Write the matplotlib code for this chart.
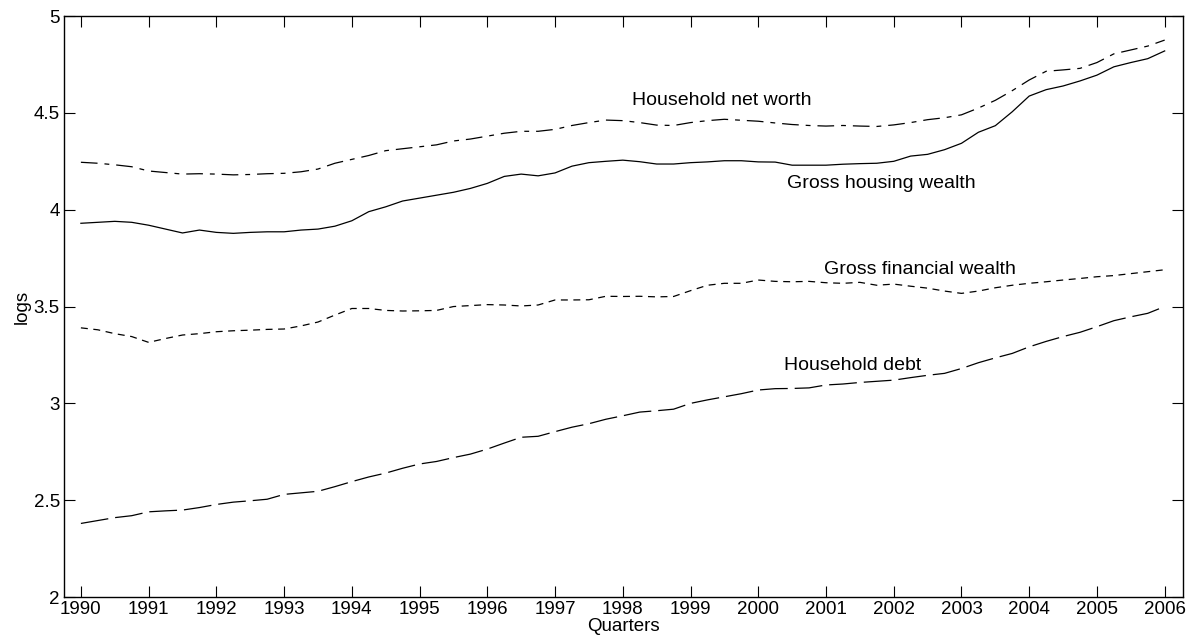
import numpy as np
import matplotlib
matplotlib.use("Agg")
import matplotlib.pyplot as plt

plt.rcParams['font.family'] = ['Liberation Sans', 'DejaVu Sans']
plt.rcParams['lines.scale_dashes'] = False

# quarterly data 1990Q1 .. 2006Q1 (logs)
start_year = 1990
net_worth = [4.245, 4.240, 4.232, 4.222,
             4.200, 4.192, 4.184, 4.186,
             4.184, 4.180, 4.182, 4.186,
             4.188, 4.196, 4.210, 4.240,
             4.260, 4.280, 4.305, 4.315,
             4.325, 4.335, 4.355, 4.365,
             4.380, 4.395, 4.405, 4.405,
             4.415, 4.435, 4.450, 4.463,
             4.460, 4.450, 4.437, 4.435,
             4.450, 4.460, 4.467, 4.462,
             4.457, 4.448, 4.440, 4.435,
             4.432, 4.435, 4.432, 4.430,
             4.438, 4.450, 4.465, 4.475,
             4.490, 4.525, 4.565, 4.615,
             4.670, 4.715, 4.722, 4.730,
             4.760, 4.805, 4.825, 4.845,
             4.876]
housing = [3.930, 3.935, 3.940, 3.935,
           3.920, 3.900, 3.880, 3.895,
           3.883, 3.878, 3.883, 3.886,
           3.886, 3.895, 3.900, 3.915,
           3.943, 3.990, 4.015, 4.045,
           4.060, 4.075, 4.090, 4.110,
           4.136, 4.172, 4.184, 4.175,
           4.190, 4.225, 4.243, 4.250,
           4.256, 4.248, 4.236, 4.236,
           4.243, 4.247, 4.253, 4.253,
           4.247, 4.246, 4.230, 4.230,
           4.230, 4.235, 4.238, 4.240,
           4.250, 4.277, 4.286, 4.310,
           4.343, 4.400, 4.434, 4.506,
           4.587, 4.620, 4.639, 4.665,
           4.695, 4.738, 4.760, 4.780,
           4.820]
financial = [3.390, 3.380, 3.360, 3.345,
             3.315, 3.335, 3.353, 3.360,
             3.370, 3.375, 3.378, 3.382,
             3.384, 3.400, 3.420, 3.456,
             3.490, 3.490, 3.480, 3.477,
             3.478, 3.480, 3.500, 3.505,
             3.510, 3.508, 3.503, 3.508,
             3.534, 3.534, 3.535, 3.553,
             3.552, 3.553, 3.550, 3.552,
             3.582, 3.610, 3.620, 3.620,
             3.637, 3.630, 3.628, 3.630,
             3.623, 3.620, 3.625, 3.610,
             3.616, 3.605, 3.595, 3.580,
             3.568, 3.580, 3.597, 3.610,
             3.620, 3.628, 3.637, 3.645,
             3.654, 3.660, 3.670, 3.680,
             3.690]
debt = [2.380, 2.395, 2.410, 2.420,
        2.440, 2.445, 2.449, 2.462,
        2.478, 2.490, 2.497, 2.505,
        2.530, 2.538, 2.546, 2.570,
        2.596, 2.620, 2.640, 2.665,
        2.687, 2.700, 2.720, 2.738,
        2.764, 2.795, 2.825, 2.830,
        2.854, 2.877, 2.895, 2.918,
        2.936, 2.955, 2.962, 2.970,
        3.000, 3.018, 3.034, 3.050,
        3.069, 3.076, 3.077, 3.080,
        3.095, 3.100, 3.108, 3.114,
        3.120, 3.133, 3.145, 3.155,
        3.180, 3.210, 3.235, 3.258,
        3.292, 3.320, 3.345, 3.367,
        3.396, 3.427, 3.447, 3.465,
        3.500]

year_ticks = list(range(1990, 2007))
y_ticks = [2, 2.5, 3, 3.5, 4, 4.5, 5]
y_labels = ['2', '2.5', '3', '3.5', '4', '4.5', '5']

t = start_year + np.arange(len(net_worth)) / 4.0

fig = plt.figure(figsize=(12, 6.43), dpi=100)
ax = fig.add_axes([0.0533, 0.0715, 0.9325, 0.9035])

lw = 0.9
ax.plot(t, net_worth, color='black', lw=lw, dashes=(12, 5, 3.5, 5))
ax.plot(t, housing, color='black', lw=lw)
ax.plot(t, financial, color='black', lw=lw, dashes=(5, 4))
ax.plot(t, debt, color='black', lw=lw, dashes=(20, 5))

# labels next to the lines
fs = 14
ax.text(1998.13, 4.566, 'Household net worth', fontsize=fs, va='center')
ax.text(2000.42, 4.137, 'Gross housing wealth', fontsize=fs, va='center')
ax.text(2000.97, 3.69, 'Gross financial wealth', fontsize=fs, va='center')
ax.text(2000.38, 3.198, 'Household debt', fontsize=fs, va='center')

ax.set_xlim(1989.75, 2006.27)
ax.set_ylim(2, 5)
ax.set_xticks(year_ticks)
ax.set_xticklabels([str(y) for y in year_ticks])
ax.set_yticks(y_ticks)
ax.set_yticklabels(y_labels)
ax.tick_params(direction='in', length=8, width=0.8, top=True, right=True,
               labelsize=13.5, pad=3)
for s in ax.spines.values():
    s.set_linewidth(1.0)

ax.set_xlabel('Quarters', fontsize=13.5, labelpad=0)
ax.set_ylabel('logs', fontsize=13.5, labelpad=2)

fig.savefig('out.png', dpi=100)
